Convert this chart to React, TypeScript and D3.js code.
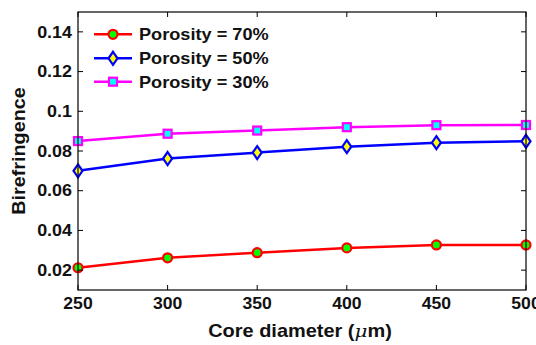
import React from "react";
import * as d3 from "d3";

const diameters = [250, 300, 350, 400, 450, 500];
const porosity70 = [0.0212, 0.0262, 0.0288, 0.0312, 0.0327, 0.0327];
const porosity50 = [0.0700, 0.0762, 0.0792, 0.0822, 0.0842, 0.0849];
const porosity30 = [0.0850, 0.0887, 0.0903, 0.0920, 0.0930, 0.0931];
const xTicks = [250, 300, 350, 400, 450, 500];
const yTicks = [0.02, 0.04, 0.06, 0.08, 0.1, 0.12, 0.14];
const yTickLabels = ["0.02", "0.04", "0.06", "0.08", "0.1", "0.12", "0.14"];
const seriesNames = ["Porosity = 70%", "Porosity = 50%", "Porosity = 30%"];

const W = 536, H = 345;
const L = 78, R = 526, T = 12, B = 290;
const font = "'Liberation Sans', Arial, sans-serif";

type Kind = "circle" | "diamond" | "square";
const series: { name: string; values: number[]; color: string; fill: string; kind: Kind }[] = [
  { name: seriesNames[0], values: porosity70, color: "#ff0000", fill: "#00ff00", kind: "circle" },
  { name: seriesNames[1], values: porosity50, color: "#0000ff", fill: "#ffff00", kind: "diamond" },
  { name: seriesNames[2], values: porosity30, color: "#ff00ff", fill: "#00ffff", kind: "square" },
];

function Marker({ x, y, kind, color, fill }: { x: number; y: number; kind: Kind; color: string; fill: string }) {
  if (kind === "circle") return <circle cx={x} cy={y} r={4.5} fill={fill} stroke={color} strokeWidth={2.2} />;
  if (kind === "diamond")
    return <path d={`M${x},${y - 6.5}L${x + 4.5},${y}L${x},${y + 6.5}L${x - 4.5},${y}Z`} fill={fill} stroke={color} strokeWidth={2.2} />;
  return <rect x={x - 4} y={y - 4} width={8} height={8} fill={fill} stroke={color} strokeWidth={2.2} />;
}

function SText({ x, y, size, sx = 1.15, anchor = "start", rotate = 0, children }: { x: number; y: number; size: number; sx?: number; anchor?: string; rotate?: number; children: React.ReactNode }) {
  return (
    <g transform={`translate(${x},${y}) rotate(${rotate}) scale(${sx},1)`}>
      <text x={0} y={0} textAnchor={anchor as any} fontFamily={font} fontWeight="bold" fontSize={size} fill="#111">{children}</text>
    </g>
  );
}

export default function App() {
  const x = d3.scaleLinear().domain([250, 500]).range([L, R]);
  const y = d3.scaleLinear().domain([0.01, 0.15]).range([B, T]);
  const line = d3.line<number>().x((_, i) => x(diameters[i])).y((d) => y(d));
  const legendY = [34.3, 58.3, 81.7];
  return (
    <svg width={W} height={H} style={{ position: "absolute", left: 0, top: 0, background: "#fff" }}>
      <rect x={0} y={0} width={W} height={H} fill="#fff" />
      {series.map((s) => (
        <g key={s.name}>
          <path d={line(s.values) || ""} fill="none" stroke={s.color} strokeWidth={2.5} />
          {s.values.map((v, i) => (
            <Marker key={i} x={x(diameters[i])} y={y(v)} kind={s.kind} color={s.color} fill={s.fill} />
          ))}
        </g>
      ))}
      <rect x={L} y={T} width={R - L} height={B - T} fill="none" stroke="#000" strokeWidth={1.2} />
      {xTicks.map((t) => (
        <g key={t}>
          <line x1={x(t)} x2={x(t)} y1={B} y2={B - 5} stroke="#000" strokeWidth={1} />
          <line x1={x(t)} x2={x(t)} y1={T} y2={T + 5} stroke="#000" strokeWidth={1} />
          <SText x={x(t)} y={309} size={16} sx={1.1} anchor="middle">{t}</SText>
        </g>
      ))}
      {yTicks.map((t, i) => (
        <g key={t}>
          <line x1={L} x2={L + 5} y1={y(t)} y2={y(t)} stroke="#000" strokeWidth={1} />
          <line x1={R} x2={R - 5} y1={y(t)} y2={y(t)} stroke="#000" strokeWidth={1} />
          <SText x={72} y={y(t) + 5.7} size={16} sx={1.12} anchor="end">{yTickLabels[i]}</SText>
        </g>
      ))}
      <SText x={300} y={336.5} size={17.5} sx={1.14} anchor="middle">
        Core diameter (<tspan fontStyle="italic" fontFamily="'DejaVu Serif', serif" fontWeight="normal">μ</tspan>m)
      </SText>
      <g transform={`translate(25,151) rotate(-90) scale(1.13,1)`}>
        <text x={0} y={0} textAnchor="middle" fontFamily={font} fontWeight="bold" fontSize={17.5} fill="#111">Birefringence</text>
      </g>
      {series.map((s, i) => (
        <g key={s.name}>
          <line x1={94} x2={132} y1={legendY[i]} y2={legendY[i]} stroke={s.color} strokeWidth={2.5} />
          <Marker x={113} y={legendY[i]} kind={s.kind} color={s.color} fill={s.fill} />
          <SText x={139} y={legendY[i] + 6} size={15.8}>{s.name}</SText>
        </g>
      ))}
    </svg>
  );
}
